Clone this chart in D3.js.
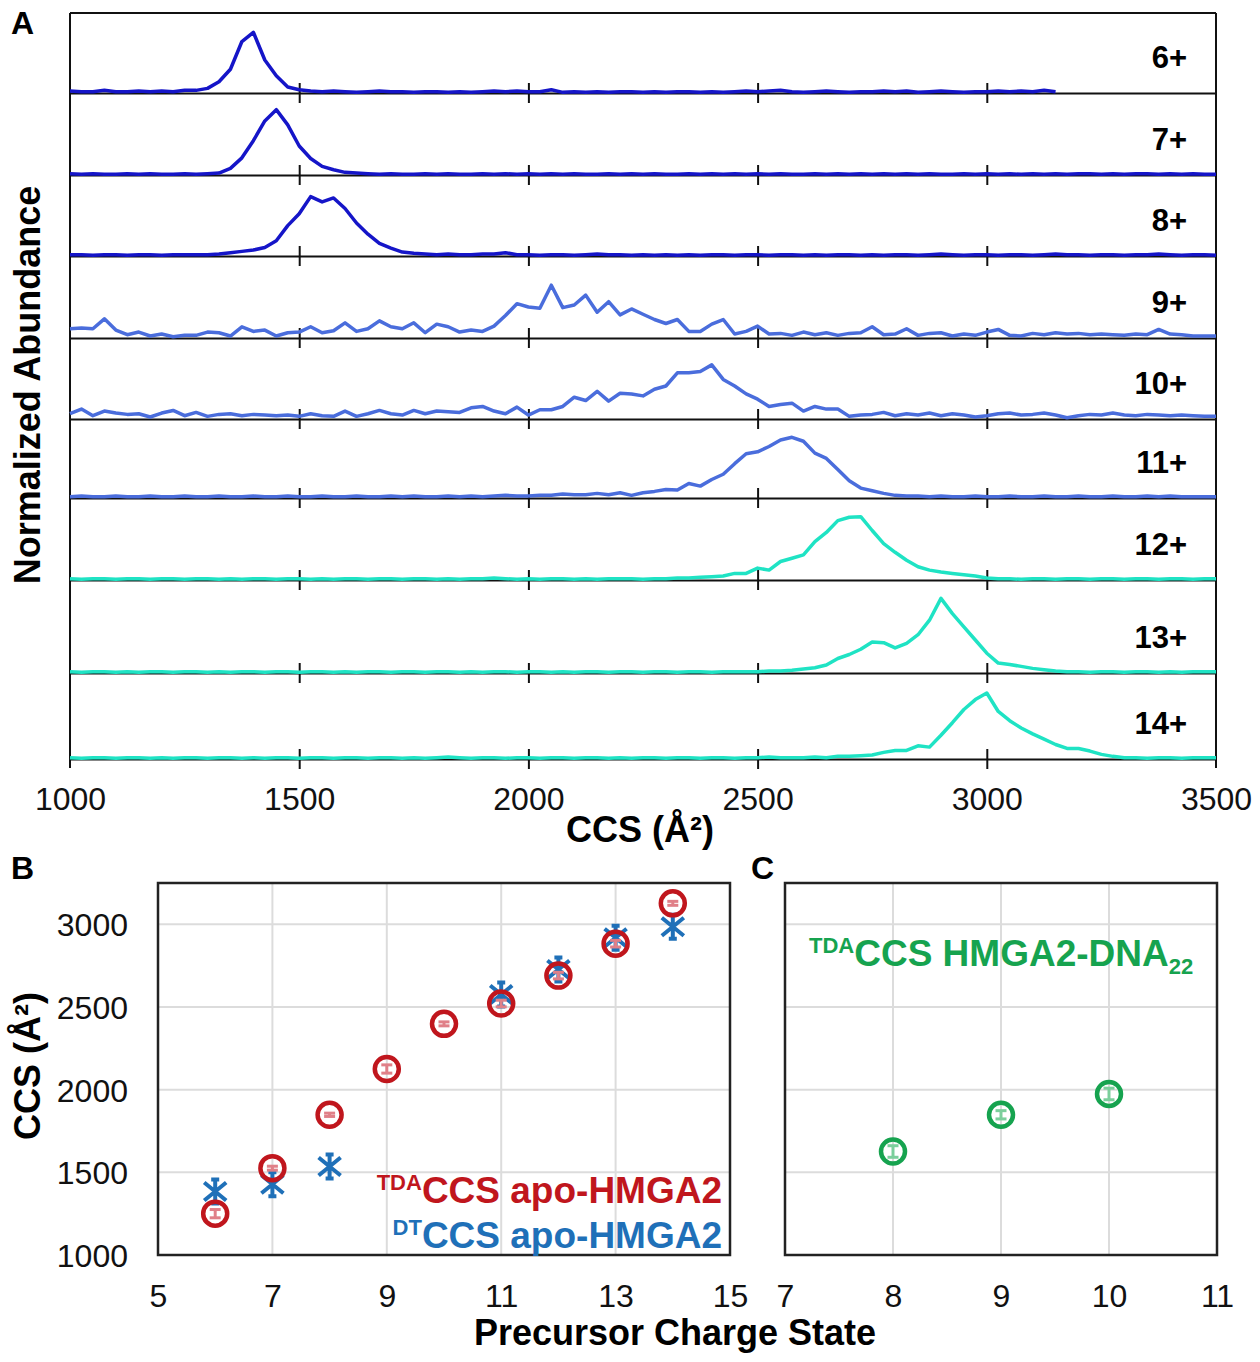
<!DOCTYPE html>
<html>
<head>
<meta charset="utf-8">
<script src="https://cdn.jsdelivr.net/npm/d3@7"></script>
<style>
  body { margin: 0; background: #fff; }
  svg text { font-family: "Liberation Sans", Arial, sans-serif; }
</style>
</head>
<body>
<svg id="fig" width="1260" height="1362"></svg>
<script>
// ---------- data: panel A (arrival-time derived CCS distributions) ----------
const chargeLabels = ["6+", "7+", "8+", "9+", "10+", "11+", "12+", "13+", "14+"];
const ccsGrid = d3.range(1000, 3501, 25); // instrument sampling grid, Å²

const trace6 = [0.03,0.02,0.02,0.04,0.02,0.02,0.03,0.02,0.03,0.02,
  0.04,0.04,0.07,0.17,0.36,0.78,0.92,0.50,0.26,0.09,
  0.05,0.03,0.02,0.03,0.02,0.01,0.02,0.03,0.02,0.02,
  0.01,0.02,0.02,0.01,0.02,0.01,0.02,0.03,0.02,0.03,
  0.02,0.02,0.05,0.01,0.02,0.01,0.02,0.01,0.02,0.02,
  0.01,0.02,0.01,0.02,0.02,0.01,0.02,0.01,0.02,0.03,
  0.02,0.03,0.04,0.02,0.01,0.02,0.03,0.02,0.01,0.02,
  0.02,0.03,0.02,0.03,0.01,0.02,0.03,0.02,0.01,0.02,
  0.02,0.03,0.02,0.03,0.02,0.04,0.02];
const trace7 = [0.02,0.01,0.02,0.01,0.01,0.02,0.01,0.02,0.01,0.01,
  0.02,0.01,0.02,0.03,0.10,0.26,0.52,0.82,0.99,0.76,
  0.44,0.25,0.13,0.08,0.04,0.03,0.02,0.01,0.02,0.01,
  0.01,0.02,0.01,0.02,0.01,0.01,0.02,0.01,0.02,0.01,
  0.02,0.01,0.02,0.01,0.02,0.01,0.01,0.02,0.01,0.02,
  0.01,0.02,0.01,0.01,0.02,0.01,0.02,0.01,0.02,0.01,
  0.02,0.01,0.02,0.01,0.01,0.02,0.01,0.02,0.01,0.02,
  0.01,0.02,0.01,0.02,0.01,0.02,0.01,0.01,0.02,0.01,
  0.02,0.01,0.02,0.01,0.02,0.01,0.02,0.01,0.02,0.02,
  0.01,0.02,0.01,0.02,0.02,0.01,0.02,0.01,0.02,0.01,
  0.01];
const trace8 = [0.02,0.02,0.01,0.02,0.02,0.01,0.02,0.02,0.01,0.02,
  0.02,0.02,0.02,0.03,0.05,0.07,0.09,0.13,0.23,0.46,
  0.64,0.90,0.82,0.88,0.72,0.50,0.33,0.19,0.12,0.06,
  0.04,0.03,0.02,0.03,0.02,0.02,0.03,0.03,0.05,0.02,
  0.02,0.01,0.02,0.02,0.01,0.02,0.03,0.02,0.02,0.01,
  0.02,0.01,0.02,0.01,0.02,0.01,0.02,0.02,0.01,0.02,
  0.02,0.01,0.02,0.02,0.01,0.02,0.01,0.02,0.02,0.01,
  0.02,0.01,0.02,0.02,0.01,0.02,0.03,0.02,0.01,0.02,
  0.02,0.01,0.02,0.02,0.01,0.02,0.03,0.02,0.02,0.01,
  0.02,0.02,0.01,0.02,0.02,0.03,0.02,0.01,0.02,0.02,
  0.01];
const trace9 = [0.14,0.15,0.14,0.29,0.12,0.05,0.09,0.03,0.06,0.02,
  0.04,0.04,0.09,0.08,0.03,0.17,0.10,0.12,0.03,0.08,
  0.09,0.17,0.08,0.11,0.23,0.10,0.14,0.26,0.17,0.14,
  0.23,0.08,0.21,0.17,0.09,0.12,0.10,0.18,0.34,0.52,
  0.47,0.45,0.80,0.46,0.50,0.65,0.39,0.55,0.35,0.44,
  0.36,0.28,0.22,0.28,0.10,0.10,0.21,0.28,0.06,0.10,
  0.18,0.06,0.07,0.04,0.09,0.05,0.08,0.04,0.07,0.08,
  0.17,0.05,0.06,0.14,0.04,0.07,0.08,0.03,0.06,0.04,
  0.09,0.13,0.04,0.03,0.07,0.05,0.08,0.06,0.07,0.05,
  0.06,0.05,0.04,0.06,0.05,0.13,0.06,0.05,0.03,0.03,
  0.03];
const trace10 = [0.08,0.15,0.05,0.12,0.09,0.07,0.08,0.03,0.09,0.13,
  0.05,0.10,0.04,0.07,0.08,0.05,0.07,0.06,0.05,0.06,
  0.04,0.08,0.05,0.04,0.12,0.04,0.08,0.13,0.08,0.06,
  0.13,0.08,0.12,0.11,0.10,0.17,0.19,0.12,0.08,0.18,
  0.06,0.14,0.14,0.19,0.33,0.28,0.42,0.27,0.39,0.38,
  0.35,0.45,0.50,0.70,0.70,0.72,0.82,0.60,0.50,0.38,
  0.30,0.19,0.22,0.24,0.12,0.19,0.15,0.15,0.04,0.06,
  0.07,0.10,0.05,0.08,0.06,0.09,0.05,0.08,0.06,0.03,
  0.05,0.08,0.09,0.06,0.07,0.09,0.06,0.02,0.05,0.07,
  0.06,0.09,0.06,0.05,0.07,0.06,0.05,0.06,0.05,0.04,
  0.04];
const trace11 = [0.02,0.03,0.02,0.02,0.03,0.02,0.02,0.03,0.02,0.02,
  0.03,0.02,0.02,0.03,0.02,0.02,0.03,0.02,0.02,0.03,
  0.02,0.02,0.03,0.02,0.02,0.03,0.02,0.02,0.03,0.02,
  0.03,0.02,0.02,0.03,0.02,0.03,0.02,0.03,0.04,0.03,
  0.03,0.04,0.04,0.06,0.05,0.05,0.07,0.05,0.08,0.04,
  0.08,0.10,0.13,0.12,0.22,0.18,0.28,0.36,0.52,0.67,
  0.70,0.78,0.88,0.92,0.86,0.68,0.60,0.43,0.26,0.15,
  0.11,0.07,0.04,0.03,0.03,0.02,0.03,0.02,0.02,0.03,
  0.02,0.02,0.03,0.02,0.02,0.03,0.02,0.02,0.03,0.02,
  0.02,0.03,0.02,0.02,0.03,0.02,0.03,0.02,0.02,0.02,
  0.02];
const trace12 = [0.02,0.01,0.02,0.02,0.01,0.02,0.02,0.01,0.02,0.02,
  0.01,0.02,0.02,0.01,0.02,0.01,0.02,0.02,0.01,0.02,
  0.02,0.01,0.02,0.01,0.02,0.02,0.01,0.02,0.02,0.01,
  0.02,0.02,0.01,0.02,0.01,0.02,0.02,0.03,0.02,0.01,
  0.02,0.01,0.02,0.02,0.01,0.02,0.01,0.02,0.02,0.02,
  0.01,0.02,0.02,0.03,0.03,0.04,0.05,0.06,0.10,0.10,
  0.18,0.15,0.28,0.33,0.38,0.58,0.72,0.90,0.95,0.96,
  0.75,0.55,0.42,0.30,0.20,0.15,0.12,0.10,0.08,0.06,
  0.03,0.02,0.02,0.01,0.02,0.02,0.01,0.02,0.02,0.01,
  0.02,0.02,0.01,0.02,0.02,0.01,0.02,0.02,0.01,0.02,
  0.02];
const trace13 = [0.02,0.01,0.02,0.02,0.01,0.02,0.01,0.02,0.02,0.01,
  0.02,0.02,0.01,0.02,0.01,0.02,0.02,0.01,0.02,0.02,
  0.01,0.02,0.02,0.01,0.02,0.01,0.02,0.02,0.01,0.02,
  0.02,0.01,0.02,0.02,0.01,0.02,0.01,0.02,0.02,0.01,
  0.02,0.02,0.01,0.02,0.01,0.02,0.02,0.01,0.02,0.02,
  0.01,0.02,0.02,0.01,0.02,0.02,0.01,0.02,0.02,0.02,
  0.02,0.03,0.03,0.04,0.06,0.08,0.12,0.22,0.28,0.36,
  0.47,0.46,0.38,0.45,0.58,0.80,1.13,0.90,0.70,0.50,
  0.30,0.15,0.13,0.10,0.07,0.05,0.03,0.02,0.02,0.01,
  0.02,0.02,0.01,0.02,0.02,0.01,0.02,0.01,0.02,0.02,
  0.02];
const trace14 = [0.02,0.01,0.02,0.02,0.01,0.02,0.02,0.01,0.02,0.01,
  0.02,0.02,0.01,0.02,0.02,0.01,0.02,0.01,0.02,0.02,
  0.01,0.02,0.02,0.01,0.02,0.02,0.01,0.02,0.02,0.01,
  0.02,0.01,0.02,0.03,0.02,0.01,0.02,0.02,0.01,0.02,
  0.02,0.01,0.02,0.02,0.01,0.02,0.02,0.01,0.02,0.01,
  0.02,0.02,0.01,0.02,0.02,0.01,0.02,0.02,0.01,0.02,
  0.02,0.03,0.02,0.02,0.02,0.03,0.02,0.04,0.04,0.05,
  0.06,0.10,0.13,0.13,0.20,0.18,0.36,0.55,0.75,0.90,
  1.00,0.72,0.58,0.47,0.38,0.30,0.22,0.16,0.16,0.12,
  0.07,0.04,0.02,0.02,0.01,0.02,0.02,0.01,0.02,0.02,
  0.02];
const traces = [trace6, trace7, trace8, trace9, trace10, trace11, trace12, trace13, trace14];
const traceColors = ["#1515c8", "#1515c8", "#1515c8", "#4a6ddc", "#4a6ddc", "#4a6ddc", "#1fe3c4", "#1fe3c4", "#1fe3c4"];

// ---------- data: panel B ----------
const chargeB = [6, 7, 8, 9, 10, 11, 12, 13, 14];
const tdaCCS = [1250, 1525, 1848, 2125, 2398, 2521, 2690, 2883, 3127];
const tdaErr = [25, 12, 10, 25, 12, 20, 20, 20, 12];
const dtCharge = [6, 7, 8, 11, 12, 13, 14];
const dtCCS = [1384, 1428, 1535, 2576, 2727, 2919, 2985];

// ---------- data: panel C ----------
const chargeC = [8, 9, 10];
const dnaCCS = [1626, 1848, 1974];
const dnaErr = [35, 25, 35];

// ---------- layout ----------
const svg = d3.select("#fig");
const black = "#111";
const red = "#c0161d", redLight = "#e08088";
const blue = "#1f70b8";
const green = "#16a34f", greenLight = "#7ccf9c";
const gridCol = "#dcdcdc";

// ===== Panel A =====
const aLeft = 70, aRight = 1216, aTop = 13, aBottomExt = 768;
const rowBase = [93, 175, 256, 338, 419, 498, 580, 673, 759];
const xA = d3.scaleLinear().domain([1000, 3500]).range([aLeft, aRight]);

const gA = svg.append("g");
gA.append("line").attr("x1", aLeft).attr("x2", aRight).attr("y1", aTop).attr("y2", aTop)
  .attr("stroke", black).attr("stroke-width", 2);
gA.append("line").attr("x1", aLeft).attr("x2", aLeft).attr("y1", aTop).attr("y2", aBottomExt)
  .attr("stroke", black).attr("stroke-width", 2);
gA.append("line").attr("x1", aRight).attr("x2", aRight).attr("y1", aTop).attr("y2", aBottomExt)
  .attr("stroke", black).attr("stroke-width", 2);

traces.forEach((vals, i) => {
  const base = rowBase[i];
  const row = gA.append("g");
  const ax = row.append("g")
    .attr("transform", `translate(0,${base})`)
    .call(d3.axisBottom(xA).tickValues([1500, 2000, 2500, 3000]).tickSize(10).tickSizeOuter(0).tickFormat(""));
  ax.select(".domain").attr("stroke", black).attr("stroke-width", 2);
  ax.selectAll(".tick line").attr("y1", -10).attr("stroke", black).attr("stroke-width", 2);

  const y = d3.scaleLinear().domain([0, 1]).range([base, base - 66]);
  const pts = vals.map((v, k) => [ccsGrid[k], v]);
  row.append("path")
    .datum(pts)
    .attr("fill", "none")
    .attr("stroke", traceColors[i])
    .attr("stroke-width", 3.5)
    .attr("stroke-linejoin", "round")
    .attr("d", d3.line().x(d => xA(d[0])).y(d => y(d[1])));

  row.append("text")
    .attr("x", 1187).attr("y", base - 25)
    .attr("text-anchor", "end")
    .attr("font-size", 31).attr("font-weight", "bold")
    .text(chargeLabels[i]);
});

const axA = gA.append("g")
  .attr("transform", `translate(0,${rowBase[8]})`)
  .call(d3.axisBottom(xA).tickValues([1000, 1500, 2000, 2500, 3000, 3500]).tickSize(0).tickFormat(d3.format("d")));
axA.select(".domain").remove();
axA.selectAll("text").attr("y", 51).attr("dy", null)
  .attr("font-size", 32).attr("fill", black).style("font-family", '"Liberation Sans", Arial, sans-serif');

gA.append("text").attr("x", 640).attr("y", 842).attr("text-anchor", "middle")
  .attr("font-size", 36).attr("font-weight", "bold").text("CCS (Å²)");
gA.append("text").attr("transform", "translate(40,385) rotate(-90)").attr("text-anchor", "middle")
  .attr("font-size", 36).attr("font-weight", "bold").text("Normalized Abundance");
gA.append("text").attr("x", 11).attr("y", 34).attr("font-size", 32).attr("font-weight", "bold").text("A");

// ===== shared y scale for B and C =====
const pTop = 883, pBottom = 1255;
const yCCS = d3.scaleLinear().domain([1000, 3250]).range([pBottom, pTop]);
const yGrid = [1500, 2000, 2500, 3000];

function drawGrid(g, x, xGrid) {
  g.selectAll(".hg").data(yGrid).join("line")
    .attr("x1", x.range()[0]).attr("x2", x.range()[1])
    .attr("y1", d => yCCS(d)).attr("y2", d => yCCS(d))
    .attr("stroke", gridCol).attr("stroke-width", 2);
  g.selectAll(".vg").data(xGrid).join("line")
    .attr("x1", d => x(d)).attr("x2", d => x(d))
    .attr("y1", pTop).attr("y2", pBottom)
    .attr("stroke", gridCol).attr("stroke-width", 2);
}

function xAxisLabels(g, x, ticks) {
  const ax = g.append("g").attr("transform", `translate(0,${pBottom})`)
    .call(d3.axisBottom(x).tickValues(ticks).tickSize(0).tickFormat(d3.format("d")));
  ax.select(".domain").remove();
  ax.selectAll("text").attr("y", 52).attr("dy", null)
    .attr("font-size", 32).attr("fill", black).style("font-family", '"Liberation Sans", Arial, sans-serif');
}

function errBars(g, xs, ys, errs, x, color) {
  const eb = g.append("g").attr("stroke", color).attr("stroke-width", 3);
  xs.forEach((c, i) => {
    const cx = x(c), yTop = yCCS(ys[i] + errs[i]), yBot = yCCS(ys[i] - errs[i]);
    eb.append("line").attr("x1", cx).attr("x2", cx).attr("y1", yTop).attr("y2", yBot);
    eb.append("line").attr("x1", cx - 5.5).attr("x2", cx + 5.5).attr("y1", yTop).attr("y2", yTop);
    eb.append("line").attr("x1", cx - 5.5).attr("x2", cx + 5.5).attr("y1", yBot).attr("y2", yBot);
  });
}

// ===== Panel B =====
const xB = d3.scaleLinear().domain([5, 15]).range([158, 730]);
const gB = svg.append("g");
drawGrid(gB, xB, [7, 9, 11, 13]);

const ayB = gB.append("g").attr("transform", `translate(${xB.range()[0]},0)`)
  .call(d3.axisLeft(yCCS).tickValues([1000, 1500, 2000, 2500, 3000]).tickSize(0).tickPadding(30).tickFormat(d3.format("d")));
ayB.select(".domain").remove();
ayB.selectAll("text").attr("font-size", 32).attr("fill", black).attr("dy", "0.36em")
  .style("font-family", '"Liberation Sans", Arial, sans-serif');
xAxisLabels(gB, xB, [5, 7, 9, 11, 13, 15]);

// DT stars (x + vertical stroke with small caps)
const starPath = "M-11,-9L11,9M-11,9L11,-9M0,-12L0,12M-4,-12L4,-12M-4,12L4,12";
gB.selectAll(".dt").data(dtCharge).join("path")
  .attr("transform", (d, i) => `translate(${xB(d)},${yCCS(dtCCS[i])})`)
  .attr("d", starPath).attr("fill", "none")
  .attr("stroke", blue).attr("stroke-width", 4);

errBars(gB, chargeB, tdaCCS, tdaErr, xB, redLight);
gB.selectAll(".tda").data(chargeB).join("circle")
  .attr("cx", d => xB(d)).attr("cy", (d, i) => yCCS(tdaCCS[i]))
  .attr("r", 12).attr("fill", "none")
  .attr("stroke", red).attr("stroke-width", 4.5);

gB.append("rect").attr("x", 158).attr("y", pTop).attr("width", 730 - 158).attr("height", pBottom - pTop)
  .attr("fill", "none").attr("stroke", "#222").attr("stroke-width", 2.5);

const legR = gB.append("text").attr("x", 722).attr("y", 1203).attr("text-anchor", "end")
  .attr("font-weight", "bold").attr("fill", red);
legR.append("tspan").attr("font-size", 22).attr("dy", -13).text("TDA");
legR.append("tspan").attr("font-size", 37).attr("dy", 13).text("CCS apo-HMGA2");
const legB = gB.append("text").attr("x", 722).attr("y", 1248).attr("text-anchor", "end")
  .attr("font-weight", "bold").attr("fill", blue);
legB.append("tspan").attr("font-size", 22).attr("dy", -13).text("DT");
legB.append("tspan").attr("font-size", 37).attr("dy", 13).text("CCS apo-HMGA2");

gB.append("text").attr("transform", "translate(40,1066) rotate(-90)").attr("text-anchor", "middle")
  .attr("font-size", 36).attr("font-weight", "bold").text("CCS (Å²)");
gB.append("text").attr("x", 675).attr("y", 1345).attr("text-anchor", "middle")
  .attr("font-size", 36).attr("font-weight", "bold").text("Precursor Charge State");
gB.append("text").attr("x", 11).attr("y", 879).attr("font-size", 32).attr("font-weight", "bold").text("B");

// ===== Panel C =====
const xC = d3.scaleLinear().domain([7, 11]).range([785, 1217]);
const gC = svg.append("g");
drawGrid(gC, xC, [8, 9, 10]);
xAxisLabels(gC, xC, [7, 8, 9, 10, 11]);

errBars(gC, chargeC, dnaCCS, dnaErr, xC, greenLight);
gC.selectAll(".dna").data(chargeC).join("circle")
  .attr("cx", d => xC(d)).attr("cy", (d, i) => yCCS(dnaCCS[i]))
  .attr("r", 12).attr("fill", "none")
  .attr("stroke", green).attr("stroke-width", 4.5);

gC.append("rect").attr("x", 785).attr("y", pTop).attr("width", 1217 - 785).attr("height", pBottom - pTop)
  .attr("fill", "none").attr("stroke", "#222").attr("stroke-width", 2.5);

const legC = gC.append("text").attr("x", 809).attr("y", 966)
  .attr("font-weight", "bold").attr("fill", green);
legC.append("tspan").attr("font-size", 22).attr("dy", -13).text("TDA");
legC.append("tspan").attr("font-size", 37).attr("dy", 13).text("CCS HMGA2-DNA");
legC.append("tspan").attr("font-size", 22).attr("dy", 8).text("22");

gC.append("text").attr("x", 751).attr("y", 879).attr("font-size", 32).attr("font-weight", "bold").text("C");
</script>
</body>
</html>
